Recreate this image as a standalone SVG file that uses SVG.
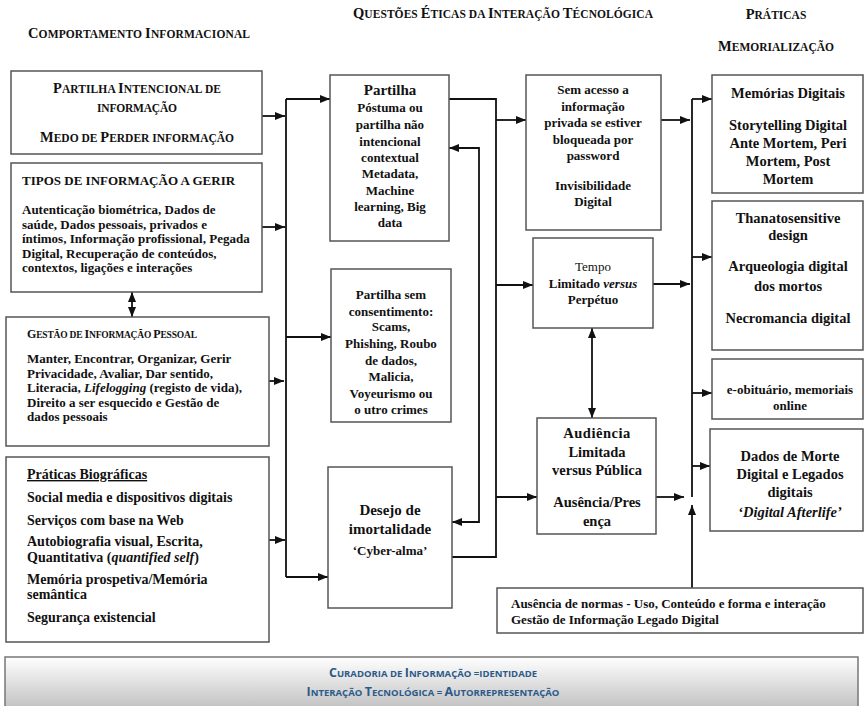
<svg xmlns="http://www.w3.org/2000/svg" width="865" height="706" viewBox="0 0 865 706">
<style>
text{font-family:"Liberation Serif","Times New Roman",serif;font-weight:bold;fill:#111;}
.t13{font-size:13px;}
.t14{font-size:14px;}
.t145{font-size:14.5px;}
.t15{font-size:15px;}
.sc{font-size:11.5px;}
.big{font-size:14.5px;}
.reg{font-weight:normal;}
.box{fill:#fff;stroke:#555;stroke-width:1.5;}
.ln{fill:none;stroke:#111;stroke-width:1.8;}
.ban{font-family:"Open Sans","Liberation Sans",sans-serif;font-weight:bold;fill:#2b5a8a;font-size:9.5px;}
.banbig{font-size:12.5px;}
</style>
<defs>
<marker id="ar" viewBox="0 0 10 8" refX="10" refY="4" markerWidth="10" markerHeight="8" markerUnits="userSpaceOnUse" orient="auto-start-reverse">
<path d="M0,0 L10,4 L0,8 z" fill="#111"/>
</marker>
<linearGradient id="bg" x1="0" y1="0" x2="0" y2="1">
<stop offset="0" stop-color="#ffffff"/>
<stop offset="1" stop-color="#bdbdbd"/>
</linearGradient>
</defs>
<rect width="865" height="706" fill="#fff"/>

<g id="titles">
<text x="28" y="38" textLength="222" lengthAdjust="spacing" class="sc"><tspan class="big">C</tspan>OMPORTAMENTO <tspan class="big">I</tspan>NFORMACIONAL</text>
<text x="353" y="18" textLength="300" lengthAdjust="spacing" class="sc"><tspan class="big">Q</tspan>UESTÕES <tspan class="big">É</tspan>TICAS DA <tspan class="big">I</tspan>NTERAÇÃO <tspan class="big">T</tspan>ÉCNOLÓGICA</text>
<text x="776" y="19" text-anchor="middle" class="sc"><tspan class="big">P</tspan>RÁTICAS</text>
<text x="776" y="51" text-anchor="middle" class="sc"><tspan class="big">M</tspan>EMORIALIZAÇÃO</text>
</g>

<g id="connectors">
<path class="ln" d="M262,116 H285" marker-end="url(#ar)"/>
<path class="ln" d="M262,227 H285" marker-end="url(#ar)"/>
<path class="ln" d="M269,381 H284" marker-end="url(#ar)"/>
<path class="ln" d="M269,540 H285" marker-end="url(#ar)"/>
<path class="ln" d="M286,99 V577"/>
<path class="ln" d="M286,99 H330" marker-end="url(#ar)"/>
<path class="ln" d="M286,337 H331" marker-end="url(#ar)"/>
<path class="ln" d="M286,577 H328" marker-end="url(#ar)"/>
<path class="ln" d="M132,292 V317" marker-start="url(#ar)" marker-end="url(#ar)"/>
<path class="ln" d="M449,99 H496 V557 H452"/>
<path class="ln" d="M496,120 H526" marker-end="url(#ar)"/>
<path class="ln" d="M496,285 H533" marker-end="url(#ar)"/>
<path class="ln" d="M496,497 H537" marker-end="url(#ar)"/>
<path class="ln" d="M449,148 H479 V522 H452" marker-start="url(#ar)" marker-end="url(#ar)"/>
<path class="ln" d="M592,328 V418" marker-start="url(#ar)" marker-end="url(#ar)"/>
<path class="ln" d="M661,120 H690" marker-end="url(#ar)"/>
<path class="ln" d="M653,284 H690" marker-end="url(#ar)"/>
<path class="ln" d="M656,497 H684" marker-end="url(#ar)"/>
<path class="ln" d="M692,99 V497"/>
<path class="ln" d="M692,588 V505" marker-end="url(#ar)"/>
<path class="ln" d="M692,99 H712" marker-end="url(#ar)"/>
<path class="ln" d="M692,257 H712" marker-end="url(#ar)"/>
<path class="ln" d="M692,393 H712" marker-end="url(#ar)"/>
<path class="ln" d="M692,466 H710" marker-end="url(#ar)"/>
</g>

<g id="partilha-intencional">
<rect class="box" x="11" y="71" width="251" height="83"/>
<text x="137" y="93" text-anchor="middle" textLength="168" lengthAdjust="spacing" class="sc"><tspan class="big">P</tspan>ARTILHA <tspan class="big">I</tspan>NTENCIONAL DE</text>
<text x="137" y="112" text-anchor="middle" textLength="80" lengthAdjust="spacing" class="sc">INFORMAÇÃO</text>
<text x="137" y="142" text-anchor="middle" textLength="194" lengthAdjust="spacing" class="sc"><tspan class="big">M</tspan>EDO DE <tspan class="big">P</tspan>ERDER INFORMAÇÃO</text>
</g>

<g id="tipos-informacao">
<rect class="box" x="11" y="163" width="251" height="129"/>
<text x="22" y="185" class="t13">TIPOS DE INFORMAÇÃO A GERIR</text>
<text x="22" y="214" class="t13">Autenticação biométrica, Dados de</text>
<text x="22" y="229" class="t13">saúde, Dados pessoais, privados e</text>
<text x="22" y="243" class="t13">íntimos, Informação profissional, Pegada</text>
<text x="22" y="258" class="t13">Digital, Recuperação de conteúdos,</text>
<text x="22" y="272" class="t13">contextos, ligações e interações</text>
</g>

<g id="gestao-informacao">
<rect class="box" x="6" y="317" width="263" height="129"/>
<text x="27" y="338" textLength="170" lengthAdjust="spacing" style="font-size:9.5px"><tspan style="font-size:12px">G</tspan>ESTÃO DE <tspan style="font-size:12px">I</tspan>NFORMAÇÃO <tspan style="font-size:12px">P</tspan>ESSOAL</text>
<text x="27" y="363" class="t13">Manter, Encontrar, Organizar, Gerir</text>
<text x="27" y="378" class="t13">Privacidade, Avaliar, Dar sentido,</text>
<text x="27" y="392" class="t13">Literacia, <tspan font-style="italic">Lifelogging</tspan> (registo de vida),</text>
<text x="27" y="407" class="t13">Direito a ser esquecido e Gestão de</text>
<text x="27" y="421" class="t13">dados pessoais</text>
</g>

<g id="praticas-biograficas">
<rect class="box" x="6" y="457" width="263" height="185"/>
<text x="27" y="479" class="t14" text-decoration="underline">Práticas Biográficas</text>
<text x="27" y="502" class="t14">Social media e dispositivos digitais</text>
<text x="27" y="525" class="t14">Serviços com base na Web</text>
<text x="27" y="546" class="t14">Autobiografia visual, Escrita,</text>
<text x="27" y="562" class="t14">Quantitativa (<tspan font-style="italic">quantified self</tspan>)</text>
<text x="27" y="584" class="t14">Memória prospetiva/Memória</text>
<text x="27" y="599" class="t14">semântica</text>
<text x="27" y="622" class="t14">Segurança existencial</text>
</g>

<g id="partilha-postuma">
<rect class="box" x="330" y="75" width="119" height="166"/>
<text x="390" y="95" text-anchor="middle" class="t15">Partilha</text>
<text x="390" y="112" text-anchor="middle" class="t13">Póstuma ou</text>
<text x="390" y="129" text-anchor="middle" class="t13">partilha não</text>
<text x="390" y="146" text-anchor="middle" class="t13">intencional</text>
<text x="390" y="162" text-anchor="middle" class="t13">contextual</text>
<text x="390" y="178" text-anchor="middle" class="t13">Metadata,</text>
<text x="390" y="195" text-anchor="middle" class="t13">Machine</text>
<text x="390" y="211" text-anchor="middle" class="t13">learning, Big</text>
<text x="390" y="227" text-anchor="middle" class="t13">data</text>
</g>

<g id="partilha-sem-consentimento">
<rect class="box" x="331" y="269" width="120" height="153"/>
<text x="391" y="299" text-anchor="middle" class="t13">Partilha sem</text>
<text x="391" y="316" text-anchor="middle" class="t13">consentimento:</text>
<text x="391" y="331" text-anchor="middle" class="t13">Scams,</text>
<text x="391" y="348" text-anchor="middle" class="t13">Phishing, Roubo</text>
<text x="391" y="365" text-anchor="middle" class="t13">de dados,</text>
<text x="391" y="381" text-anchor="middle" class="t13">Malicia,</text>
<text x="391" y="398" text-anchor="middle" class="t13">Voyeurismo ou</text>
<text x="391" y="414" text-anchor="middle" class="t13">o utro crimes</text>
</g>

<g id="desejo-imortalidade">
<rect class="box" x="328" y="467" width="124" height="141"/>
<text x="390" y="515" text-anchor="middle" class="t15">Desejo de</text>
<text x="390" y="534" text-anchor="middle" class="t15">imortalidade</text>
<text x="390" y="555" text-anchor="middle" class="t13">‘Cyber-alma’</text>
</g>

<g id="sem-acesso">
<rect class="box" x="526" y="75" width="135" height="155"/>
<text x="593" y="94" text-anchor="middle" class="t13">Sem acesso a</text>
<text x="593" y="111" text-anchor="middle" class="t13">informação</text>
<text x="593" y="127" text-anchor="middle" class="t13">privada se estiver</text>
<text x="593" y="144" text-anchor="middle" class="t13">bloqueada por</text>
<text x="593" y="160" text-anchor="middle" class="t13">password</text>
<text x="593" y="190" text-anchor="middle" class="t13">Invisibilidade</text>
<text x="593" y="206" text-anchor="middle" class="t13">Digital</text>
</g>

<g id="tempo">
<rect class="box" x="533" y="238" width="120" height="90"/>
<text x="593" y="271" text-anchor="middle" class="t13 reg">Tempo</text>
<text x="593" y="288" text-anchor="middle" class="t13">Limitado <tspan font-style="italic">versus</tspan></text>
<text x="593" y="304" text-anchor="middle" class="t13">Perpétuo</text>
</g>

<g id="audiencia">
<rect class="box" x="537" y="418" width="119" height="116"/>
<text x="597" y="438" text-anchor="middle" class="t145" letter-spacing="0.5">Audiência</text>
<text x="597" y="457" text-anchor="middle" class="t145">Limitada</text>
<text x="597" y="475" text-anchor="middle" class="t145">versus Pública</text>
<text x="597" y="507" text-anchor="middle" class="t145">Ausência/Pres</text>
<text x="597" y="526" text-anchor="middle" class="t145">ença</text>
</g>

<g id="ausencia-normas">
<rect class="box" x="497" y="588" width="366" height="45"/>
<text x="511" y="608" class="t13">Ausência de normas - Uso, Conteúdo e forma e interação</text>
<text x="511" y="624" class="t13">Gestão de Informação Legado Digital</text>
</g>

<g id="memorias-digitais">
<rect class="box" x="712" y="75" width="151" height="118"/>
<text x="788" y="98" text-anchor="middle" class="t145">Memórias Digitais</text>
<text x="788" y="130" text-anchor="middle" class="t145">Storytelling Digital</text>
<text x="788" y="148" text-anchor="middle" class="t145">Ante Mortem, Peri</text>
<text x="788" y="166" text-anchor="middle" class="t145">Mortem, Post</text>
<text x="788" y="184" text-anchor="middle" class="t145">Mortem</text>
</g>

<g id="thanatosensitive">
<rect class="box" x="712" y="201" width="151" height="149"/>
<text x="788" y="223" text-anchor="middle" class="t145">Thanatosensitive</text>
<text x="788" y="240" text-anchor="middle" class="t145">design</text>
<text x="788" y="271" text-anchor="middle" class="t145">Arqueologia digital</text>
<text x="788" y="291" text-anchor="middle" class="t145">dos mortos</text>
<text x="788" y="323" text-anchor="middle" class="t145">Necromancia digital</text>
</g>

<g id="e-obituario">
<rect class="box" x="712" y="359" width="151" height="60"/>
<text x="790" y="394" text-anchor="middle" class="t13">e-obituário, memoriais</text>
<text x="790" y="410" text-anchor="middle" class="t13">online</text>
</g>

<g id="dados-morte">
<rect class="box" x="710" y="429" width="153" height="102"/>
<text x="790" y="461" text-anchor="middle" class="t145">Dados de Morte</text>
<text x="790" y="479" text-anchor="middle" class="t145">Digital e Legados</text>
<text x="790" y="497" text-anchor="middle" class="t145">digitais</text>
<text x="790" y="517" text-anchor="middle" class="t145" font-style="italic">‘Digital Afterlife’</text>
</g>

<g id="banner">
<rect x="5" y="657" width="853" height="55" fill="url(#bg)" stroke="#777" stroke-width="1.5"/>
<text x="433" y="677" text-anchor="middle" class="ban"><tspan class="banbig">C</tspan>URADORIA DE <tspan class="banbig">I</tspan>NFORMAÇÃO =IDENTIDADE</text>
<text x="433" y="696" text-anchor="middle" class="ban"><tspan class="banbig">I</tspan>NTERAÇÃO <tspan class="banbig">T</tspan>ECNOLÓGICA = <tspan class="banbig">A</tspan>UTORREPRESENTAÇÃO</text>
</g>
</svg>
